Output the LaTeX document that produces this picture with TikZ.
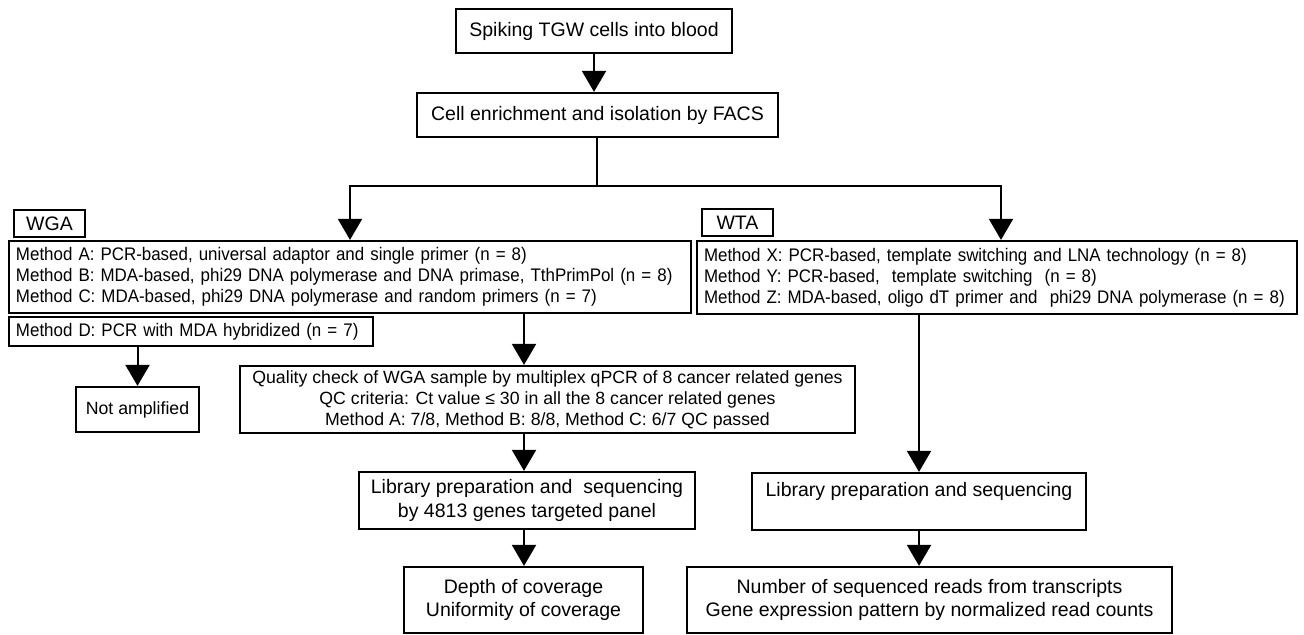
\documentclass[tikz,border=0pt]{standalone}
\usepackage{fontspec}
\setmainfont{Liberation Sans}
\newfontfamily\narrowsans{Liberation Sans}[FakeStretch=0.93]
\usetikzlibrary{arrows.meta}
\newcommand{\listtxt}{\narrowsans\fontsize{18.2bp}{21bp}\selectfont}
\newcommand{\smalltxt}{\fontsize{17.7bp}{21bp}\selectfont}
\newcommand{\bigtxt}{\fontsize{19.5bp}{23.5bp}\selectfont}
\tikzset{
  box/.style={draw, line width=2.2bp, inner xsep=7bp, inner ysep=0bp, align=center, font=\bigtxt},
  smallbox/.style={box, font=\smalltxt},
  listbox/.style={box, font=\listtxt, align=left, inner xsep=7bp},
  arr/.style={line width=2bp, -{Triangle[width=24bp,length=21bp]}},
  plain/.style={line width=2bp}
}
\begin{document}
\begin{tikzpicture}[x=1bp,y=-1bp]
\useasboundingbox (0,0) rectangle (1304,635);
\node[box, minimum width=276bp, minimum height=44bp] (spike) at (594,31) {Spiking TGW cells into blood};
\node[box, minimum width=361bp, minimum height=44bp] (facs) at (597.5,115) {Cell enrichment and isolation by FACS};
\node[box, minimum width=71bp, minimum height=27bp] (wgalab) at (49.5,223.5) {WGA};
\node[box, minimum width=71bp, minimum height=27bp] (wtalab) at (737.5,222.5) {WTA};
\node[listbox, text width=668bp, minimum height=72bp] (wgam) at (350,277) {Method A: PCR-based, universal adaptor and single primer (n = 8)\\
Method B: MDA-based, phi29 DNA polymerase and DNA primase, TthPrimPol (n = 8)\\
Method C: MDA-based, phi29 DNA polymerase and random primers (n = 7)};
\node[listbox, text width=586bp, minimum height=73bp] (wtam) at (997,277.5) {Method X: PCR-based, template switching and LNA technology (n = 8)\\
Method Y: PCR-based,\ \ template switching\ \ (n = 8)\\
Method Z: MDA-based, oligo dT primer and\ \ phi29 DNA polymerase (n = 8)};
\node[listbox, text width=350bp, minimum height=29bp] (methd) at (191,331.5) {Method D: PCR with MDA hybridized (n = 7)};
\node[smallbox, minimum width=123bp, minimum height=45bp] (notamp) at (137.5,409.5) {Not amplified};
\node[smallbox, minimum width=615bp, minimum height=67bp] (qc) at (547.5,399.5) {Quality check of WGA sample by multiplex qPCR of 8 cancer related genes\\
QC criteria: Ct value ≤ 30 in all the 8 cancer related genes\\
Method A: 7/8, Method B: 8/8, Method C: 6/7 QC passed};
\node[box, minimum width=336bp, minimum height=57bp] (lib1) at (527,500.5) {Library preparation and\ \ sequencing\\ by 4813 genes targeted panel};
\node[box, minimum width=239bp, minimum height=66bp] (depth) at (523.5,600) {Depth of coverage\\ Uniformity of coverage};
\node[box, minimum width=334bp, minimum height=57bp] (lib2) at (919,501.5) {Library preparation and sequencing\\ \mbox{}};
\node[box, minimum width=485bp, minimum height=66bp] (reads) at (929.5,600) {Number of sequenced reads from transcripts\\ Gene expression pattern by normalized read counts};
% branching
\coordinate (split) at (597,186);
\coordinate (wgacol) at (524,0);
\draw[arr] (spike) -- (spike.south |- facs.north);
\draw[plain] (facs.south -| split) -- (split);
\draw[arr] (split) -| (wgam.north);
\draw[arr] (split) -| ([xshift=4bp]wtam.north);
% WGA side
\draw[arr] (methd.south -| notamp.north) -- (notamp.north);
\draw[arr] (wgam.south -| wgacol) -- (qc.north -| wgacol);
\draw[arr] (qc.south -| wgacol) -- (lib1.north -| wgacol);
\draw[arr] (lib1.south -| wgacol) -- (depth.north -| wgacol);
% WTA side
\draw[arr] (wtam.south -| lib2.north) -- (lib2.north);
\draw[arr] (lib2.south) -- (lib2.south |- reads.north);
\end{tikzpicture}
\end{document}
